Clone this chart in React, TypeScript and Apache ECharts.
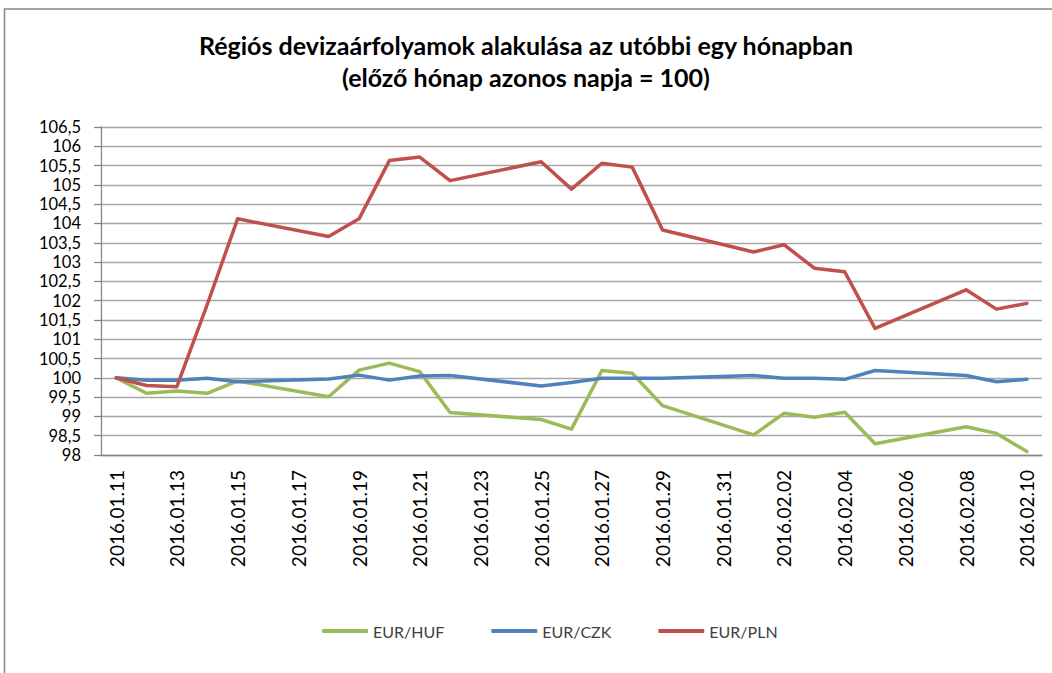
import React, { useEffect, useRef } from "react";
import * as echarts from "echarts";

const titleText = "Régiós devizaárfolyamok alakulása az utóbbi egy hónapban\n(előző hónap azonos napja = 100)";

const categories = [
  "2016.01.11", "2016.01.12", "2016.01.13", "2016.01.14", "2016.01.15", "2016.01.16", "2016.01.17",
  "2016.01.18", "2016.01.19", "2016.01.20", "2016.01.21", "2016.01.22", "2016.01.23", "2016.01.24",
  "2016.01.25", "2016.01.26", "2016.01.27", "2016.01.28", "2016.01.29", "2016.01.30", "2016.01.31",
  "2016.02.01", "2016.02.02", "2016.02.03", "2016.02.04", "2016.02.05", "2016.02.06", "2016.02.07",
  "2016.02.08", "2016.02.09", "2016.02.10",
];

const tradingDays = [
  "2016.01.11", "2016.01.12", "2016.01.13", "2016.01.14", "2016.01.15",
  "2016.01.18", "2016.01.19", "2016.01.20", "2016.01.21", "2016.01.22",
  "2016.01.25", "2016.01.26", "2016.01.27", "2016.01.28", "2016.01.29",
  "2016.02.01", "2016.02.02", "2016.02.03", "2016.02.04", "2016.02.05",
  "2016.02.08", "2016.02.09", "2016.02.10",
];

const eurHuf = [
  100.0, 99.6, 99.66, 99.6, 99.92,
  99.51, 100.2, 100.38, 100.16, 99.1,
  98.92, 98.67, 100.19, 100.12, 99.28,
  98.52, 99.08, 98.98, 99.11, 98.29,
  98.73, 98.56, 98.09,
];

const eurCzk = [
  100.0, 99.94, 99.94, 99.99, 99.9,
  99.97, 100.07, 99.94, 100.05, 100.06,
  99.79, 99.88, 99.99, 99.99, 99.99,
  100.06, 99.99, 99.99, 99.96, 100.19,
  100.06, 99.9, 99.96,
];

const eurPln = [
  100.0, 99.8, 99.77, 101.9, 104.12,
  103.66, 104.12, 105.63, 105.72, 105.11,
  105.6, 104.89, 105.56, 105.46, 103.83,
  103.26, 103.45, 102.84, 102.75, 101.28,
  102.28, 101.78, 101.93,
];

const seriesNames = ["EUR/HUF", "EUR/CZK", "EUR/PLN"];
const seriesColors = ["#9BBB59", "#4F81BD", "#C0504D"];
const seriesValues = [eurHuf, eurCzk, eurPln];

const FONT = "Lato, 'Noto Sans', sans-serif";

export default function App() {
  const ref = useRef<HTMLDivElement>(null);

  useEffect(() => {
    document.body.style.margin = "0";
    if (!ref.current) return;
    const chart = echarts.init(ref.current, null, { renderer: "svg" });
    chart.setOption({
      animation: false,
      backgroundColor: "#ffffff",
      graphic: [
        {
          type: "rect",
          shape: { x: 4.5, y: 9, width: 1100, height: 800 },
          style: { fill: "none", stroke: "#868686", lineWidth: 1.5 },
          silent: true,
          z: 0,
        },
      ],
      title: {
        text: titleText,
        left: "center",
        top: 24,
        textStyle: {
          fontFamily: FONT,
          fontSize: 25,
          fontWeight: "bold",
          color: "#000000",
          lineHeight: 32,
        },
      },
      legend: {
        left: 317,
        top: 618,
        itemWidth: 46,
        itemHeight: 4,
        itemGap: 47,
        icon: "roundRect",
        textStyle: { fontFamily: FONT, fontSize: 16, color: "#404040" },
        data: seriesNames,
      },
      grid: { left: 101, right: 10, top: 127, bottom: 218, containLabel: false },
      xAxis: {
        type: "category",
        data: categories,
        boundaryGap: true,
        axisLine: { lineStyle: { color: "#868686", width: 1.3 } },
        axisTick: { interval: 1, length: 7, lineStyle: { color: "#868686", width: 1.3 } },
        axisLabel: {
          interval: 1,
          rotate: 90,
          margin: 15,
          fontFamily: FONT,
          fontSize: 19,
          color: "#000000",
        },
        splitLine: { show: false },
      },
      yAxis: {
        type: "value",
        min: 98,
        max: 106.5,
        interval: 0.5,
        axisLine: { show: true, lineStyle: { color: "#868686", width: 1.3 } },
        axisTick: { show: true, length: 7, lineStyle: { color: "#868686", width: 1.3 } },
        axisLabel: {
          margin: 20,
          fontFamily: FONT,
          fontSize: 16.5,
          lineHeight: 16,
          color: "#000000",
          formatter: (v: number) => String(v).replace(".", ","),
        },
        splitLine: { lineStyle: { color: "#A6A6A6", width: 1.3 } },
      },
      series: seriesNames.map((name, i) => ({
        name,
        type: "line",
        data: tradingDays.map((d, j) => [d, seriesValues[i][j]]),
        symbol: "none",
        showSymbol: false,
        connectNulls: true,
        color: seriesColors[i],
        lineStyle: { color: seriesColors[i], width: 3.5, cap: "round", join: "round" },
      })),
    });
    return () => chart.dispose();
  }, []);

  return <div ref={ref} style={{ width: 1052, height: 673 }} />;
}
